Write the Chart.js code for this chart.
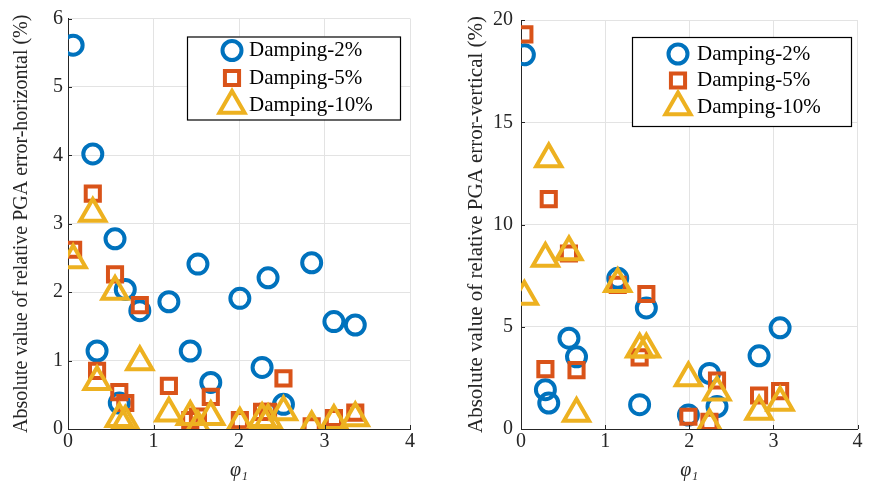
<!DOCTYPE html>
<html>
<head>
<meta charset="utf-8">
<script src="https://cdn.jsdelivr.net/npm/chart.js@4/dist/chart.umd.min.js"></script>
<style>
  html, body { margin: 0; padding: 0; background: #fff; }
  #wrap { position: relative; width: 876px; height: 486px; }
  canvas { position: absolute; top: 0; }
</style>
</head>
<body>
<div id="wrap">
  <canvas id="left" width="438" height="486" style="left:0"></canvas>
  <canvas id="right" width="438" height="486" style="left:438px"></canvas>
</div>
<script>
// horizontal PGA error (left panel)
const phiH = [0.06, 0.29, 0.34, 0.55, 0.60, 0.67, 0.84, 1.18, 1.43, 1.52, 1.67, 2.01, 2.27, 2.34, 2.52, 2.85, 3.11, 3.36];
const hDamp2  = [5.61, 4.02, 1.14, 2.78, 0.38, 2.04, 1.73, 1.86, 1.14, 2.41, 0.68, 1.91, 0.90, 2.21, 0.36, 2.43, 1.57, 1.52];
const hDamp5  = [2.62, 3.44, 0.85, 2.26, 0.54, 0.38, 1.81, 0.63, 0.13, 0.18, 0.47, 0.13, 0.25, 0.25, 0.74, 0.04, 0.16, 0.24];
const hDamp10 = [2.47, 3.15, 0.69, 2.01, 0.15, 0.11, 0.98, 0.23, 0.18, 0.03, 0.18, 0.08, 0.15, 0.13, 0.25, 0.03, 0.12, 0.16];

// vertical PGA error (right panel)
const phiV = [0.04, 0.29, 0.33, 0.57, 0.66, 1.15, 1.41, 1.49, 1.99, 2.24, 2.33, 2.83, 3.08];
const vDamp2  = [18.3, 1.92, 1.27, 4.44, 3.53, 7.37, 1.19, 5.92, 0.68, 2.72, 1.10, 3.58, 4.95];
const vDamp5  = [19.3, 2.93, 11.24, 8.58, 2.88, 7.05, 3.50, 6.60, 0.60, 0.35, 2.37, 1.64, 1.85];
const vDamp10 = [6.48, 8.34, 13.2, 8.65, 0.76, 7.10, 3.90, 3.90, 2.50, 0.19, 1.80, 0.85, 1.30];

const labels = ['Damping-2%', 'Damping-5%', 'Damping-10%'];
const xTicks = [0, 1, 2, 3, 4];

const BLUE = '#0072BD', RED = '#D95319', YEL = '#EDB120';
const FONT = "'Liberation Serif', 'Times New Roman', serif";
const AXIS = '#262626';

function pts(xs, ys) {
  return xs.map((x, i) => ({x: x, y: ys[i]}));
}

function makeSets(xs, a, b, c) {
  return [
    {label: labels[0], data: pts(xs, a), pointStyle: 'circle', pointRadius: 9.5, borderColor: BLUE, order: 3},
    {label: labels[1], data: pts(xs, b), pointStyle: 'rect', pointRadius: 10, borderColor: RED, order: 2},
    {label: labels[2], data: pts(xs, c), pointStyle: 'triangle', pointRadius: 14.5, borderColor: YEL, order: 1}
  ].map(d => Object.assign(d, {
    backgroundColor: 'rgba(0,0,0,0)', pointBorderWidth: 4, pointHoverRadius: d.pointRadius, showLine: false
  }));
}

// boxed legend inside the plot, like the matlab one
const boxLegend = {
  id: 'boxLegend',
  afterDraw(chart, args, opts) {
    const ctx = chart.ctx;
    const ca = chart.chartArea;
    const bx = ca.left + opts.dx, by = ca.top + opts.dy;
    ctx.save();
    ctx.fillStyle = '#fff';
    ctx.fillRect(bx, by, opts.w, opts.h);
    ctx.strokeStyle = '#000';
    ctx.lineWidth = 1.2;
    ctx.strokeRect(bx + 0.5, by + 0.5, opts.w, opts.h);
    chart.data.datasets.forEach((ds, i) => {
      const cy = by + opts.row0 + i * opts.rowGap;
      ctx.fillStyle = 'rgba(0,0,0,0)';
      ctx.strokeStyle = ds.borderColor;
      ctx.lineWidth = ds.pointBorderWidth;
      Chart.helpers.drawPoint(ctx, {pointStyle: ds.pointStyle, radius: ds.pointRadius, rotation: 0, borderWidth: ds.pointBorderWidth}, bx + opts.mx, cy);
      ctx.fillStyle = '#000';
      ctx.font = '21px ' + FONT;
      ctx.textBaseline = 'middle';
      ctx.fillText(ds.label, bx + opts.tx, cy);
    });
    ctx.restore();
  }
};

// short inward tick marks on the left and bottom axes
const inTicks = {
  id: 'inTicks',
  afterDraw(chart) {
    const ctx = chart.ctx, ca = chart.chartArea;
    const xs = chart.scales.x, ys = chart.scales.y;
    ctx.save();
    ctx.strokeStyle = AXIS;
    ctx.lineWidth = 1;
    ctx.beginPath();
    xs.ticks.forEach(t => {
      const px = Math.round(xs.getPixelForValue(t.value)) + 0.5;
      ctx.moveTo(px, ca.bottom); ctx.lineTo(px, ca.bottom - 4);
    });
    ys.ticks.forEach(t => {
      const py = Math.round(ys.getPixelForValue(t.value)) + 0.5;
      ctx.moveTo(ca.left, py); ctx.lineTo(ca.left + 4, py);
    });
    ctx.stroke();
    ctx.restore();
  }
};

function createPanel(id, xs, a, b, c, yMax, yStep, yTitle, cfg) {
  return new Chart(document.getElementById(id), {
    type: 'scatter',
    data: {datasets: makeSets(xs, a, b, c)},
    plugins: [boxLegend, inTicks],
    options: {
      responsive: false,
      animation: false,
      layout: {padding: {left: 0, top: cfg.top, right: cfg.right, bottom: 0}},
      plugins: {
        legend: {display: false},
        tooltip: {enabled: false},
        boxLegend: cfg.legend
      },
      scales: {
        x: {
          type: 'linear', min: 0, max: 4,
          afterBuildTicks: s => { s.ticks = xTicks.map(v => ({value: v})); },
          afterFit: s => { s.height = 57; },
          grid: {color: '#e3e3e3', drawTicks: false},
          border: {color: AXIS, width: 1},
          ticks: {color: AXIS, font: {family: FONT, size: 20}, padding: 1},
          title: {display: true, text: 'φ₁', color: AXIS, font: {family: FONT, size: 20, style: 'italic'}, padding: {top: 0, bottom: 3}}
        },
        y: {
          type: 'linear', min: 0, max: yMax,
          ticks: {stepSize: yStep, color: AXIS, font: {family: FONT, size: 20}, padding: cfg.yPad},
          afterFit: s => { s.width = cfg.yWidth; },
          grid: {color: '#e3e3e3', drawTicks: false},
          border: {color: AXIS, width: 1},
          title: {display: true, text: yTitle, color: AXIS, font: {family: FONT, size: cfg.titleSize}, padding: {top: cfg.titlePad, bottom: 0}}
        }
      }
    }
  });
}

window.addEventListener('load', function () {
  createPanel('left', phiH, hDamp2, hDamp5, hDamp10, 6, 1,
    'Absolute value of relative PGA error-horizontal (%)',
    {top: 15, right: 28, yWidth: 68, yPad: 5, titlePad: 10, titleSize: 20,
     legend: {dx: 119, dy: 18, w: 213, h: 83, mx: 45, tx: 62, row0: 14, rowGap: 27.5}});
  createPanel('right', phiV, vDamp2, vDamp5, vDamp10, 20, 5,
    'Absolute value of relative PGA error-vertical (%)',
    {top: 16, right: 11, yWidth: 83, yPad: 8, titlePad: 26, titleSize: 21,
     legend: {dx: 111, dy: 17, w: 219, h: 89, mx: 46, tx: 65, row0: 17, rowGap: 26.5}});
});
</script>
</body>
</html>
